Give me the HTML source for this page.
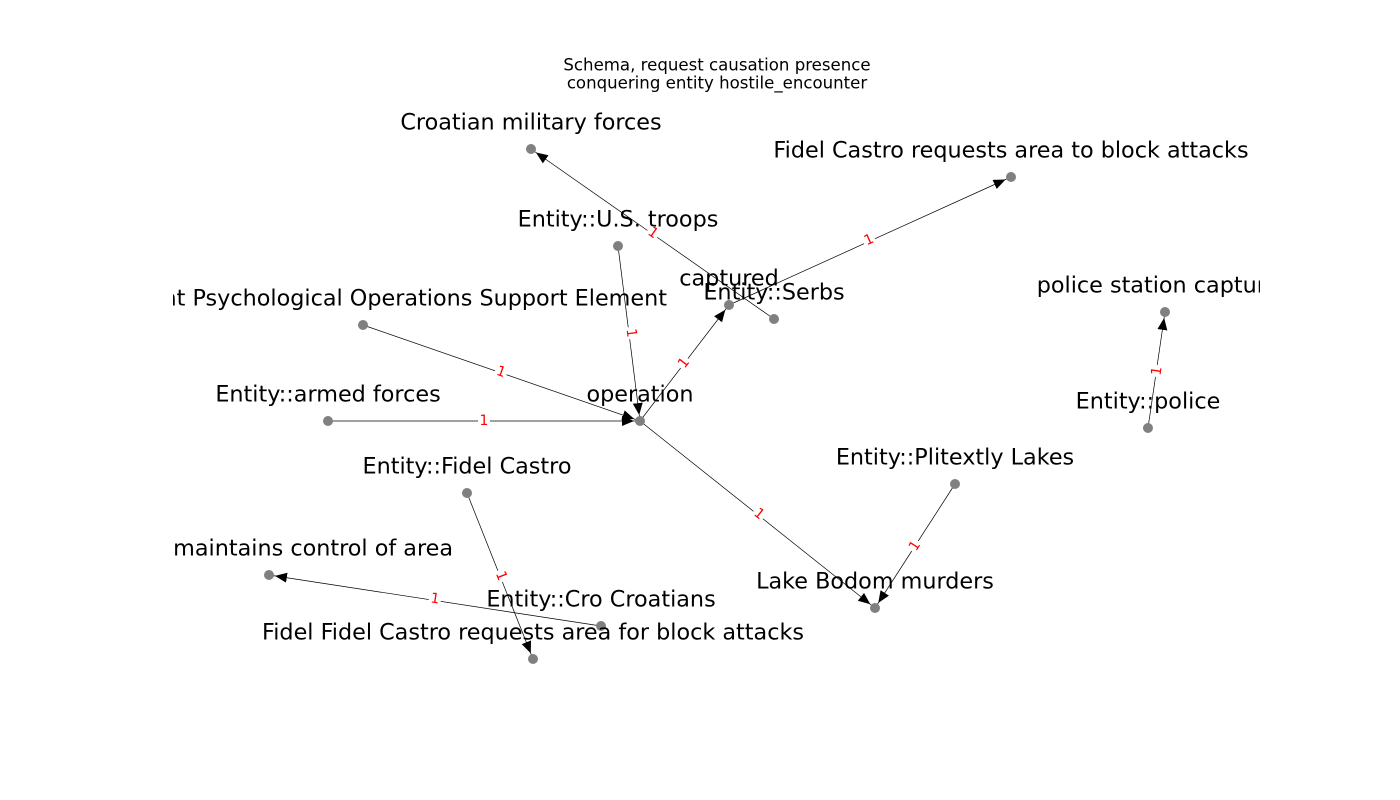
<!DOCTYPE html>
<html><head><style>
html,body{margin:0;padding:0;background:#fff;}
svg{display:block;font-family:"DejaVu Sans","Liberation Sans",sans-serif;}
.n{font-size:22.3px;fill:#000;text-anchor:middle;dominant-baseline:middle;}
.e{font-size:14px;fill:red;text-anchor:middle;dominant-baseline:middle;}
line{stroke:#000;stroke-width:0.7;}
</style></head><body>
<svg width="1400" height="800" viewBox="0 0 1400 800">
<defs>
<marker id="a" markerUnits="userSpaceOnUse" markerWidth="20" markerHeight="12" refX="18" refY="5" orient="auto">
<path d="M0,0 L12,5 L0,10 Z" fill="#000"/>
</marker>
<clipPath id="c"><rect x="173" y="0" width="1087" height="800"/></clipPath>
</defs>
<text x="717" y="66" style="font-size:16.6px;text-anchor:middle;dominant-baseline:middle">Schema, request causation presence</text>
<text x="717" y="84" style="font-size:16.6px;text-anchor:middle;dominant-baseline:middle">conquering entity hostile_encounter</text>

<g>
<line x1="774" y1="319" x2="531" y2="149" marker-end="url(#a)"/>
<line x1="729" y1="305" x2="1011" y2="177" marker-end="url(#a)"/>
<line x1="618" y1="246" x2="640" y2="421" marker-end="url(#a)"/>
<line x1="640" y1="421" x2="729" y2="305" marker-end="url(#a)"/>
<line x1="363" y1="325" x2="640" y2="421" marker-end="url(#a)"/>
<line x1="328" y1="421" x2="640" y2="421" marker-end="url(#a)"/>
<line x1="640" y1="421" x2="875" y2="608" marker-end="url(#a)"/>
<line x1="1148" y1="428" x2="1165" y2="312" marker-end="url(#a)"/>
<line x1="955" y1="484" x2="875" y2="608" marker-end="url(#a)"/>
<line x1="467" y1="493" x2="533" y2="659" marker-end="url(#a)"/>
<line x1="601" y1="626" x2="269" y2="575" marker-end="url(#a)"/>
</g>

<g>
<g transform="translate(653,233) rotate(35)"><rect x="-6" y="-8" width="12" height="16" fill="#fff"/><text class="e">1</text></g>
<g transform="translate(869,240) rotate(-24.4)"><rect x="-6" y="-8" width="12" height="16" fill="#fff"/><text class="e">1</text></g>
<g transform="translate(631,333) rotate(82.8)"><rect x="-6" y="-8" width="12" height="16" fill="#fff"/><text class="e">1</text></g>
<g transform="translate(684,363) rotate(-52.5)"><rect x="-6" y="-8" width="12" height="16" fill="#fff"/><text class="e">1</text></g>
<g transform="translate(501,372) rotate(19.1)"><rect x="-6" y="-8" width="12" height="16" fill="#fff"/><text class="e">1</text></g>
<g transform="translate(484,421)"><rect x="-6" y="-8" width="12" height="16" fill="#fff"/><text class="e">1</text></g>
<g transform="translate(759,514) rotate(38.5)"><rect x="-6" y="-8" width="12" height="16" fill="#fff"/><text class="e">1</text></g>
<g transform="translate(1157,371) rotate(-81.7)"><rect x="-6" y="-8" width="12" height="16" fill="#fff"/><text class="e">1</text></g>
<g transform="translate(915,546) rotate(-57.2)"><rect x="-6" y="-8" width="12" height="16" fill="#fff"/><text class="e">1</text></g>
<g transform="translate(501,576) rotate(68.3)"><rect x="-6" y="-8" width="12" height="16" fill="#fff"/><text class="e">1</text></g>
<g transform="translate(435,599) rotate(8.7)"><rect x="-6" y="-8" width="12" height="16" fill="#fff"/><text class="e">1</text></g>
</g>

<g fill="#808080">
<circle cx="531" cy="149" r="5"/><circle cx="1011" cy="177" r="5"/><circle cx="618" cy="246" r="5"/>
<circle cx="729" cy="305" r="5"/><circle cx="774" cy="319" r="5"/><circle cx="363" cy="325" r="5"/>
<circle cx="1165" cy="312" r="5"/><circle cx="328" cy="421" r="5"/><circle cx="640" cy="421" r="5"/>
<circle cx="1148" cy="428" r="5"/><circle cx="467" cy="493" r="5"/><circle cx="955" cy="484" r="5"/>
<circle cx="269" cy="575" r="5"/><circle cx="875" cy="608" r="5"/><circle cx="601" cy="626" r="5"/>
<circle cx="533" cy="659" r="5"/>
</g>

<g clip-path="url(#c)">
<text class="n" x="531" y="123">Croatian military forces</text>
<text class="n" x="1011" y="151">Fidel Castro requests area to block attacks</text>
<text class="n" x="618" y="220">Entity::U.S. troops</text>
<text class="n" x="729" y="279">captured</text>
<text class="n" x="774" y="293">Entity::Serbs</text>
<text class="n" x="667" y="299" style="text-anchor:end">Joint Psychological Operations Support Element</text>
<text class="n" x="1165" y="286">police station captured</text>
<text class="n" x="328" y="395">Entity::armed forces</text>
<text class="n" x="640" y="395">operation</text>
<text class="n" x="1148" y="402">Entity::police</text>
<text class="n" x="467" y="467">Entity::Fidel Castro</text>
<text class="n" x="955" y="458">Entity::Plitextly Lakes</text>
<text class="n" x="453" y="549" style="text-anchor:end">Serbs maintains control of area</text>
<text class="n" x="875" y="582">Lake Bodom murders</text>
<text class="n" x="601" y="600">Entity::Cro Croatians</text>
<text class="n" x="533" y="633">Fidel Fidel Castro requests area for block attacks</text>
</g>
</svg>
</body></html>
